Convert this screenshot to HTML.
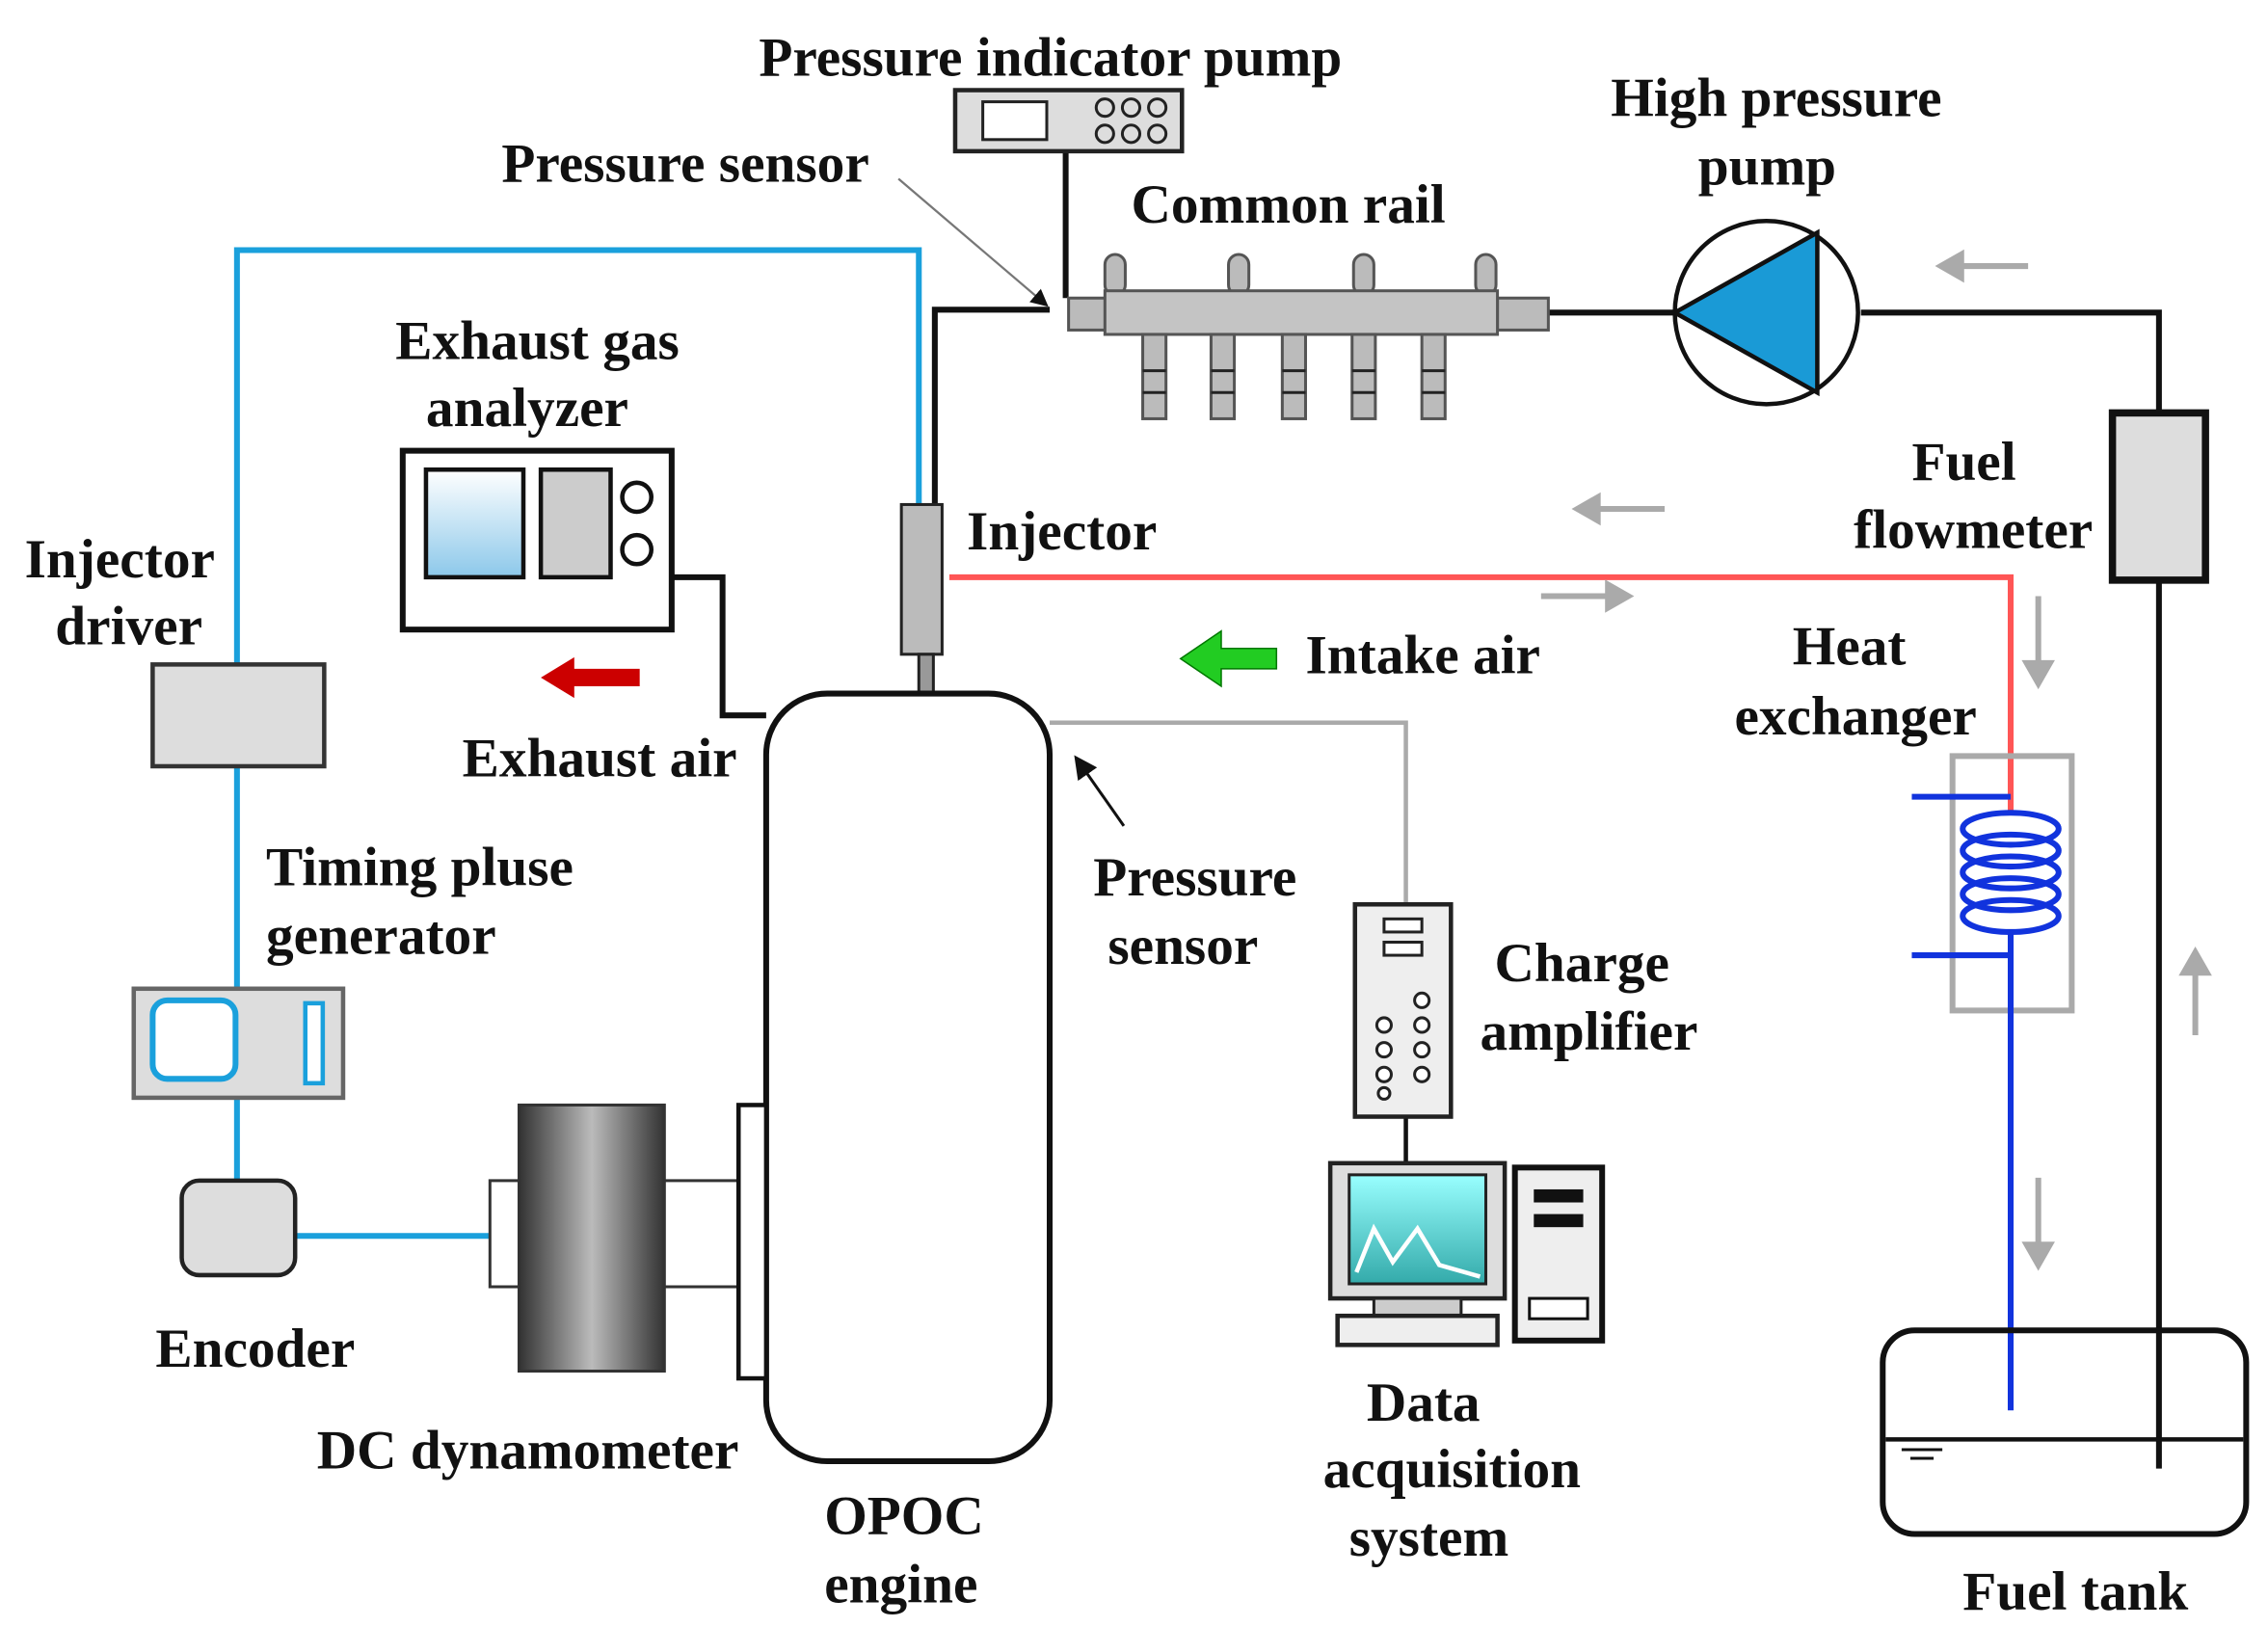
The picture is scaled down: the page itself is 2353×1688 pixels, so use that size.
<!DOCTYPE html>
<html><head><style>html,body{margin:0;padding:0;background:#fff}svg{display:block}
text{font-family:"Liberation Serif",serif;font-weight:bold;font-size:38px;fill:#111}</style></head>
<body>
<svg width="2353" height="1688" viewBox="0 0 1560 1119" preserveAspectRatio="none" xmlns="http://www.w3.org/2000/svg">
<defs>
<linearGradient id="dyn" x1="0" x2="1"><stop offset="0" stop-color="#333"/><stop offset="0.5" stop-color="#bbb"/><stop offset="1" stop-color="#333"/></linearGradient>
<linearGradient id="scr" x1="0" y1="0" x2="0" y2="1"><stop offset="0" stop-color="#fff"/><stop offset="1" stop-color="#8cc8ea"/></linearGradient>
<linearGradient id="teal" x1="0" y1="0" x2="0" y2="1"><stop offset="0" stop-color="#9ff"/><stop offset="1" stop-color="#3aa"/></linearGradient>
<marker id="ah" markerWidth="8" markerHeight="8" refX="7" refY="4" orient="auto"><path d="M0,0L8,4L0,8z" fill="#111"/></marker>
</defs>
<g stroke="#1aa0dc" stroke-width="4" fill="none">
<path d="M163,457V172H632V347"/><path d="M163,527V680"/><path d="M163,755V812"/><path d="M203,850H337"/>
</g>
<g stroke="#111" stroke-width="4" fill="none">
<path d="M643,347V213H722"/><path d="M733,105V205"/><path d="M1065,215H1152"/><path d="M1280,215H1485V283"/><path d="M1485,400V1010"/>
<path d="M462,397H497V492H527"/>
</g>
<path d="M722,497H967V622" stroke="#aaa" stroke-width="3" fill="none"/>
<path d="M967,768V800" stroke="#111" stroke-width="3"/>
<path d="M653,397H1383V560" stroke="#f55" stroke-width="4" fill="none"/>
<rect x="657" y="62" width="156" height="42" fill="#ddd" stroke="#222" stroke-width="3"/>
<rect x="676" y="70" width="44" height="26" fill="#fff" stroke="#222" stroke-width="2"/>
<g fill="none" stroke="#222" stroke-width="2"><circle cx="760" cy="74" r="6"/><circle cx="778" cy="74" r="6"/><circle cx="796" cy="74" r="6"/><circle cx="760" cy="92" r="6"/><circle cx="778" cy="92" r="6"/><circle cx="796" cy="92" r="6"/></g>
<g fill="#bbb" stroke="#555" stroke-width="2">
<rect x="760" y="175" width="14" height="28" rx="7"/><rect x="845" y="175" width="14" height="28" rx="7"/><rect x="931" y="175" width="14" height="28" rx="7"/><rect x="1015" y="175" width="14" height="28" rx="7"/>
<rect x="735" y="205" width="28" height="22"/><rect x="1030" y="205" width="35" height="22"/>
<rect x="760" y="200" width="270" height="30" fill="#c4c4c4"/>
<rect x="786" y="230" width="16" height="58"/><rect x="833" y="230" width="16" height="58"/><rect x="882" y="230" width="16" height="58"/><rect x="930" y="230" width="16" height="58"/><rect x="978" y="230" width="16" height="58"/>
</g>
<g stroke="#222" stroke-width="2">
<path d="M786,255H802M786,270H802M833,255H849M833,270H849M882,255H898M882,270H898M930,255H946M930,270H946M978,255H994M978,270H994"/></g>
<line x1="618" y1="123" x2="720" y2="210" stroke="#777" stroke-width="1.5" marker-end="url(#ah)"/>
<circle cx="1215" cy="215" r="63" fill="#fff" stroke="#111" stroke-width="3"/>
<path d="M1152,215L1250,160V270Z" fill="#1a9ad6" stroke="#111" stroke-width="3"/>
<rect x="1453" y="284" width="64" height="115" fill="#ddd" stroke="#111" stroke-width="5"/>
<g stroke="#aaa" stroke-width="4" fill="#aaa">
<path d="M1395,183H1345"/><path d="M1335,183l14,-8v16z"/>
<path d="M1145,350H1095"/><path d="M1085,350l14,-8v16z"/>
<path d="M1060,410H1110"/><path d="M1120,410l-14,-8v16z"/>
<path d="M1402,410V460"/><path d="M1402,470l-8,-14h16z"/>
<path d="M1402,810V860"/><path d="M1402,870l-8,-14h16z"/>
<path d="M1510,712V665"/><path d="M1510,655l-8,14h16z"/>
</g>
<rect x="1343" y="520" width="82" height="175" fill="none" stroke="#aaa" stroke-width="4"/>
<g stroke="#1133dd" stroke-width="4" fill="none">
<path d="M1315,548H1383"/><path d="M1315,657H1383"/><path d="M1383,640V970"/>
<ellipse cx="1383" cy="570" rx="33" ry="11"/><ellipse cx="1383" cy="585" rx="33" ry="11"/><ellipse cx="1383" cy="600" rx="33" ry="11"/><ellipse cx="1383" cy="615" rx="33" ry="11"/><ellipse cx="1383" cy="630" rx="33" ry="11"/>
</g>
<rect x="1295" y="915" width="250" height="140" rx="22" fill="none" stroke="#111" stroke-width="4"/>
<path d="M1297,990H1543" stroke="#111" stroke-width="3"/>
<path d="M1308,997H1336M1314,1003H1330" stroke="#111" stroke-width="2"/>
<rect x="620" y="347" width="28" height="103" fill="#bbb" stroke="#222" stroke-width="2"/>
<rect x="632" y="450" width="10" height="40" fill="#999" stroke="#222" stroke-width="2"/>
<rect x="527" y="477" width="195" height="528" rx="42" fill="#fff" stroke="#111" stroke-width="4"/>
<rect x="337" y="812" width="22" height="73" fill="#fff" stroke="#333" stroke-width="2"/>
<rect x="357" y="760" width="100" height="183" fill="url(#dyn)" stroke="#333" stroke-width="2"/>
<rect x="457" y="812" width="51" height="73" fill="#fff" stroke="#333" stroke-width="2"/>
<rect x="508" y="760" width="19" height="188" fill="#fff" stroke="#111" stroke-width="3"/>
<rect x="277" y="310" width="185" height="123" fill="#fff" stroke="#111" stroke-width="4"/>
<rect x="293" y="323" width="67" height="74" fill="url(#scr)" stroke="#111" stroke-width="3"/>
<rect x="372" y="323" width="48" height="74" fill="#ccc" stroke="#111" stroke-width="3"/>
<circle cx="438" cy="342" r="10" fill="#fff" stroke="#111" stroke-width="3"/><circle cx="438" cy="378" r="10" fill="#fff" stroke="#111" stroke-width="3"/>
<path d="M440,460H395V452L372,466L395,480V472H440Z" fill="#c00"/>
<path d="M878,446H840V434L812,453L840,472V460H878Z" fill="#2c2" stroke="#070" stroke-width="1"/>
<rect x="105" y="457" width="118" height="70" fill="#ddd" stroke="#333" stroke-width="3"/>
<rect x="92" y="680" width="144" height="75" fill="#ddd" stroke="#666" stroke-width="3"/>
<rect x="105" y="688" width="57" height="54" rx="10" fill="#fff" stroke="#1aa0dc" stroke-width="4"/>
<rect x="210" y="690" width="12" height="55" fill="#fff" stroke="#1aa0dc" stroke-width="3"/>
<rect x="125" y="812" width="78" height="65" rx="12" fill="#ddd" stroke="#222" stroke-width="3"/>
<line x1="773" y1="568" x2="740" y2="521" stroke="#111" stroke-width="2" marker-end="url(#ah)"/>
<rect x="932" y="622" width="66" height="146" fill="#eee" stroke="#222" stroke-width="3"/>
<rect x="952" y="632" width="26" height="9" fill="#fff" stroke="#222" stroke-width="2"/><rect x="952" y="648" width="26" height="9" fill="#fff" stroke="#222" stroke-width="2"/>
<g fill="#fff" stroke="#222" stroke-width="2"><circle cx="978" cy="688" r="5"/><circle cx="952" cy="705" r="5"/><circle cx="978" cy="705" r="5"/><circle cx="952" cy="722" r="5"/><circle cx="978" cy="722" r="5"/><circle cx="952" cy="739" r="5"/><circle cx="978" cy="739" r="5"/><circle cx="952" cy="752" r="4"/></g>
<rect x="915" y="800" width="120" height="93" fill="#ddd" stroke="#222" stroke-width="3"/>
<rect x="928" y="808" width="94" height="75" fill="url(#teal)" stroke="#222" stroke-width="2"/>
<path d="M933,875L945,845L958,868L975,845L990,870L1018,878" stroke="#fff" stroke-width="3" fill="none"/>
<rect x="945" y="893" width="60" height="12" fill="#ccc" stroke="#222" stroke-width="2"/>
<rect x="920" y="905" width="110" height="20" fill="#eee" stroke="#222" stroke-width="3"/>
<rect x="1042" y="803" width="60" height="119" fill="#eee" stroke="#111" stroke-width="4"/>
<rect x="1055" y="818" width="34" height="9" fill="#111"/><rect x="1055" y="835" width="34" height="9" fill="#111"/><rect x="1052" y="893" width="40" height="14" fill="#fff" stroke="#111" stroke-width="2"/>
<text x="522" y="52">Pressure indicator pump</text>
<text x="1108" y="80">High pressure</text>
<text x="1168" y="127">pump</text>
<text x="345" y="125">Pressure sensor</text>
<text x="778" y="153">Common rail</text>
<text x="272" y="247">Exhaust gas</text>
<text x="293" y="293">analyzer</text>
<text x="665" y="378">Injector</text>
<text x="1315" y="330">Fuel</text>
<text x="1275" y="377">flowmeter</text>
<text x="17" y="397">Injector</text>
<text x="38" y="443">driver</text>
<text x="898" y="463">Intake air</text>
<text x="1233" y="457">Heat</text>
<text x="1193" y="505">exchanger</text>
<text x="318" y="534">Exhaust air</text>
<text x="183" y="609">Timing pluse</text>
<text x="183" y="656">generator</text>
<text x="752" y="616">Pressure</text>
<text x="762" y="663">sensor</text>
<text x="1028" y="675">Charge</text>
<text x="1018" y="722">amplifier</text>
<text x="107" y="940">Encoder</text>
<text x="218" y="1010">DC dynamometer</text>
<text x="940" y="977">Data</text>
<text x="910" y="1023">acquisition</text>
<text x="928" y="1070">system</text>
<text x="567" y="1055">OPOC</text>
<text x="567" y="1102">engine</text>
<text x="1350" y="1107">Fuel tank</text>
</svg>
</body></html>
